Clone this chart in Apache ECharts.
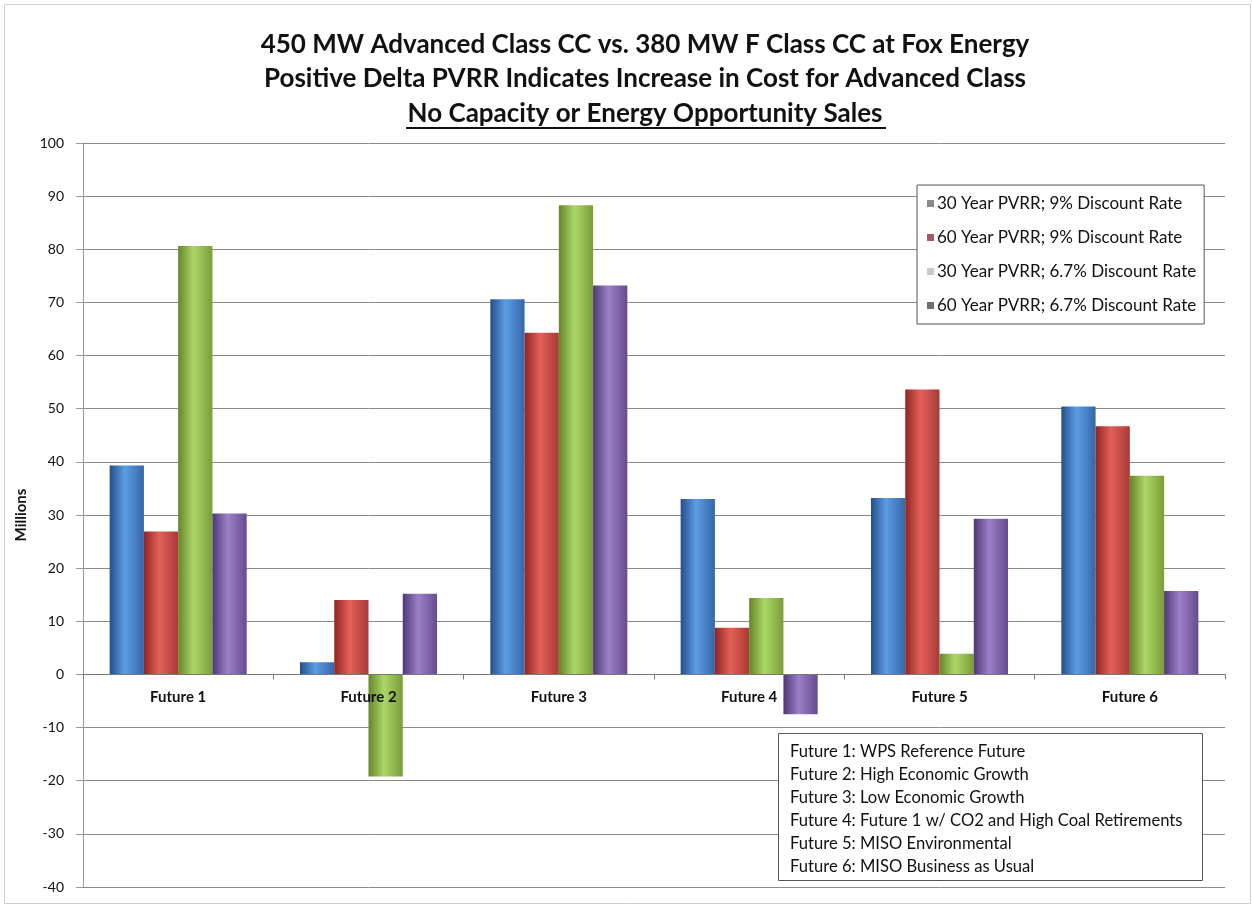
<!DOCTYPE html>
<html>
<head>
<meta charset="utf-8">
<title>Advanced Class vs F Class CC – Delta PVRR</title>
<script src="https://cdn.jsdelivr.net/npm/echarts@6/dist/echarts.min.js"></script>
<style>
  html, body { margin: 0; padding: 0; background: #ffffff; }
  #chart { width: 1252px; height: 905px; }
</style>
</head>
<body>
<div id="chart"></div>
<script>
// Scenario categories
const categories = ['Future 1', 'Future 2', 'Future 3', 'Future 4', 'Future 5', 'Future 6'];

// Delta PVRR per scenario, millions of dollars
const pvrr30y9 = [39.3, 2.3, 70.6, 33.0, 33.2, 50.4];
const pvrr60y9 = [26.9, 14.0, 64.3, 8.8, 53.6, 46.7];
const pvrr30y67 = [80.6, -19.2, 88.3, 14.4, 3.9, 37.4];
const pvrr60y67 = [30.3, 15.2, 73.2, -7.5, 29.3, 15.7];

const seriesNames = [
  '30 Year PVRR; 9% Discount Rate',
  '60 Year PVRR; 9% Discount Rate',
  '30 Year PVRR; 6.7% Discount Rate',
  '60 Year PVRR; 6.7% Discount Rate'
];

// Scenario descriptions shown in the notes box
const futureNotes = [
  'Future 1: WPS Reference Future',
  'Future 2: High Economic Growth',
  'Future 3: Low Economic Growth',
  'Future 4: Future 1 w/ CO2 and High Coal Retirements',
  'Future 5: MISO Environmental',
  'Future 6: MISO Business as Usual'
];

// Value axis range
const yMin = -40;
const yMax = 100;
const yStep = 10;

// Cylinder-like shading for each series: [edge, centre, far edge]
const shades = [
  ['#254f8a', '#5c9de3', '#3566a8'],
  ['#8f2623', '#e4605a', '#a83a36'],
  ['#66852a', '#acd766', '#7a9d38'],
  ['#4f3875', '#9c80c9', '#654c8e']
];
const legendSwatches = ['#8a8a8a', '#a05a64', '#c9c9c9', '#6e6e6e'];

function shaded(c) {
  return {
    type: 'linear', x: 0, y: 0, x2: 1, y2: 0,
    colorStops: [
      { offset: 0, color: c[0] },
      { offset: 0.45, color: c[1] },
      { offset: 1, color: c[2] }
    ]
  };
}

const values = [pvrr30y9, pvrr60y9, pvrr30y67, pvrr60y67];
const FONT = 'Lato, "Open Sans", sans-serif';

const W = 1252, H = 905;
const gridTop = 143, gridBottom = 18, gridLeft = 83, gridRight = 27;
const plotHeight = H - gridTop - gridBottom;
// Category axis sits on the zero line of the value axis
const zeroOffset = -plotHeight * (0 - yMin) / (yMax - yMin);

const chart = echarts.init(document.getElementById('chart'), null, { renderer: 'canvas' });

const noteLines = futureNotes.map((t, i) => ({
  type: 'text',
  x: 790,
  y: 752 + i * 23,
  z: 11,
  style: { text: t, font: '16.6px ' + FONT, fill: '#111', verticalAlign: 'middle' }
}));

chart.setOption({
  backgroundColor: '#ffffff',
  animation: false,
  title: {
    text: '450 MW Advanced Class CC vs. 380 MW F Class CC at Fox Energy\nPositive Delta PVRR Indicates Increase in Cost for Advanced Class\nNo Capacity or Energy Opportunity Sales',
    left: 645,
    textAlign: 'center',
    top: 27,
    padding: 0,
    textStyle: {
      fontFamily: FONT,
      fontWeight: 'bold',
      fontSize: 26,
      lineHeight: 34.5,
      color: '#111'
    }
  },
  legend: {
    orient: 'vertical',
    left: 917,
    top: 185,
    padding: [10, 8, 10, 10],
    itemGap: 17,
    itemWidth: 7,
    itemHeight: 7,
    icon: 'rect',
    borderColor: '#555',
    borderWidth: 1,
    backgroundColor: '#fff',
    textStyle: { fontFamily: FONT, fontSize: 17, color: '#111', padding: [0, 0, 0, -2] },
    data: seriesNames.map((n, i) => ({ name: n, itemStyle: { color: legendSwatches[i] } }))
  },
  grid: { left: gridLeft, right: gridRight, top: gridTop, bottom: gridBottom, containLabel: false },
  xAxis: {
    type: 'category',
    data: categories,
    zlevel: 1,
    position: 'bottom',
    offset: zeroOffset,
    axisLine: { onZero: false, lineStyle: { color: '#777', width: 1 } },
    axisTick: { show: true, length: 5, lineStyle: { color: '#777' } },
    axisLabel: { fontFamily: FONT, fontWeight: 'bold', fontSize: 15, color: '#111', margin: 15 }
  },
  yAxis: {
    type: 'value',
    min: yMin,
    max: yMax,
    interval: yStep,
    name: 'Millions',
    nameLocation: 'middle',
    nameGap: 40,
    nameRotate: 90,
    nameTextStyle: { fontFamily: FONT, fontWeight: 'bold', fontSize: 15, color: '#111' },
    axisLine: { show: true, lineStyle: { color: '#999' } },
    axisTick: { show: true, length: 7, lineStyle: { color: '#999' } },
    axisLabel: { fontFamily: FONT, fontSize: 14, color: '#111', margin: 19 },
    splitLine: { show: true, lineStyle: { color: '#8a8a8a', width: 1 } }
  },
  series: values.map((v, i) => ({
    name: seriesNames[i],
    type: 'bar',
    data: v,
    barGap: '0%',
    barCategoryGap: '28%',
    itemStyle: { color: shaded(shades[i]) },
    emphasis: { disabled: true }
  })),
  graphic: [
    // outer frame
    {
      type: 'rect',
      left: 2, top: 2,
      shape: { width: W - 6, height: H - 6 },
      style: { fill: 'none', stroke: '#cfcfcf', lineWidth: 1 },
      silent: true
    },
    // underline beneath the third title line
    {
      type: 'line',
      shape: { x1: 406, y1: 128, x2: 886, y2: 128 },
      style: { stroke: '#111', lineWidth: 2 },
      silent: true
    },
    // notes box
    {
      type: 'rect',
      left: 778, top: 733,
      z: 10,
      shape: { width: 424, height: 147 },
      style: { fill: '#fff', stroke: '#555', lineWidth: 1 }
    }
  ].concat(noteLines)
});
</script>
</body>
</html>
